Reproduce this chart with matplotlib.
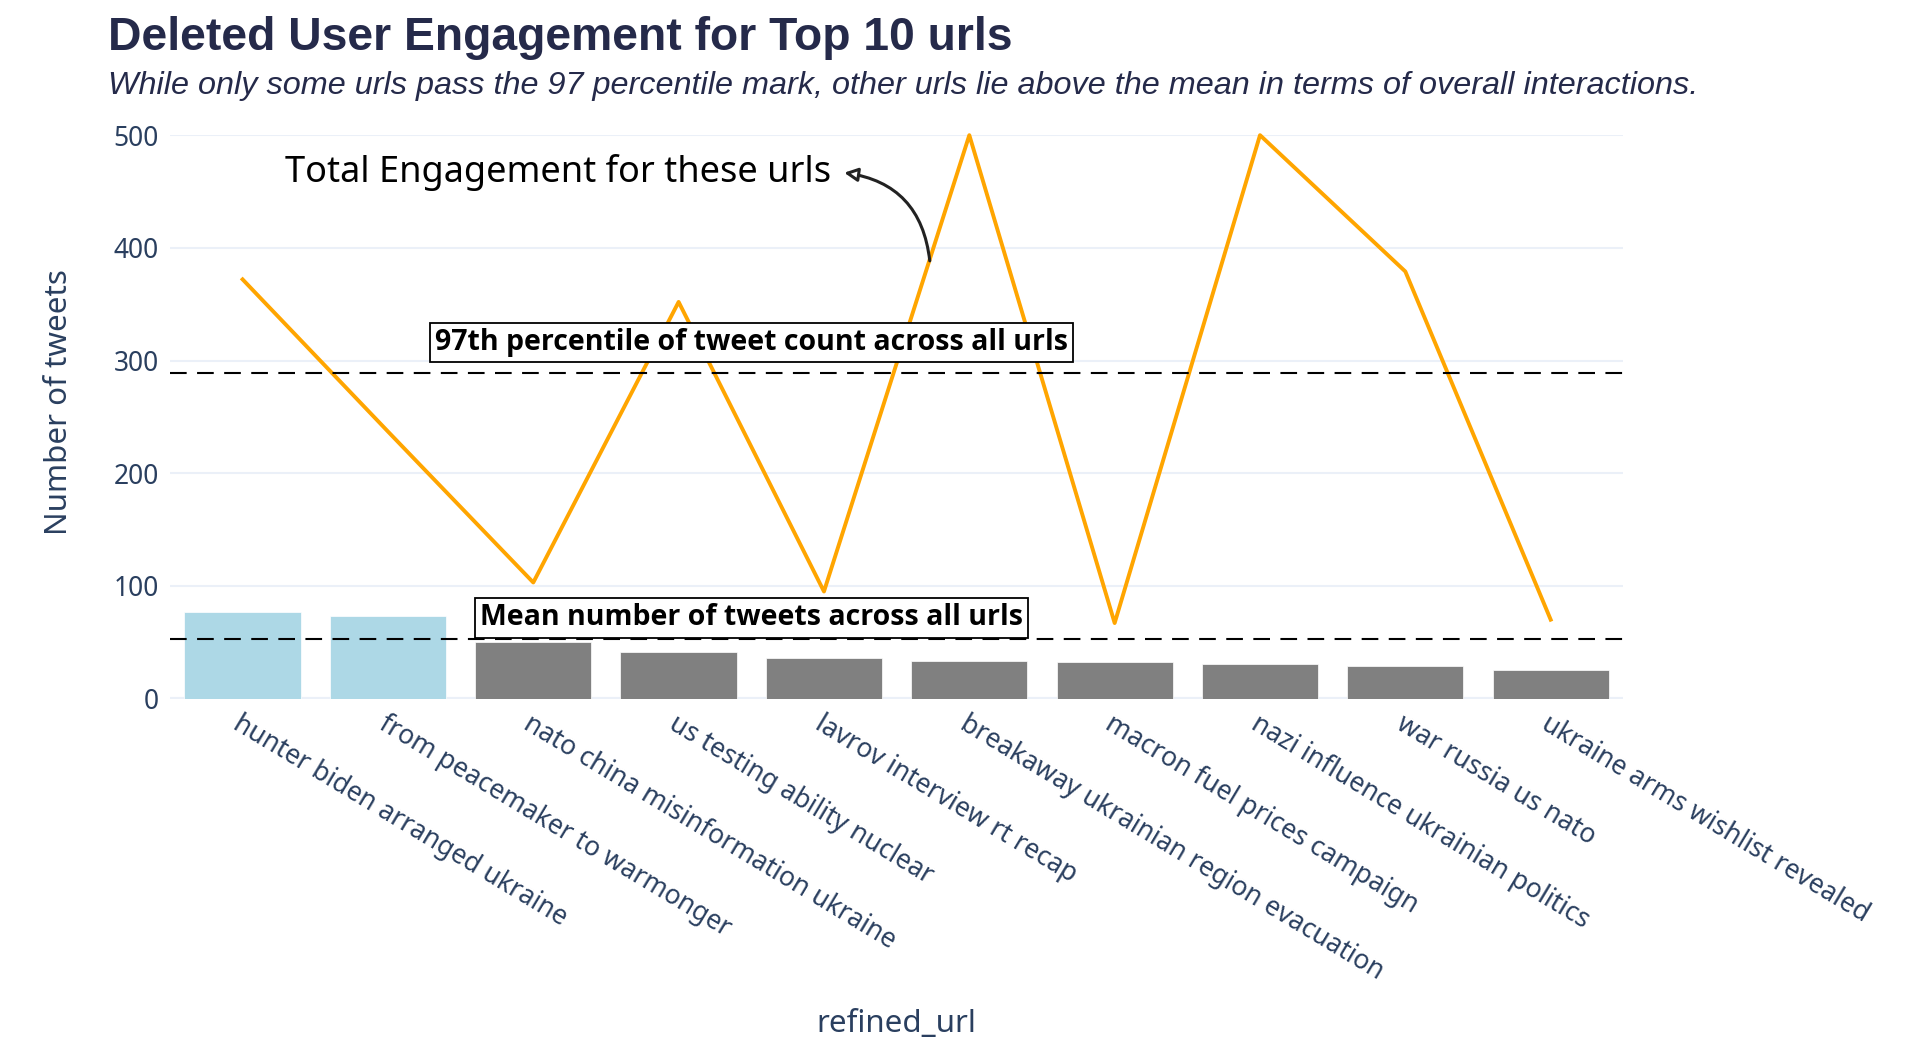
import matplotlib
matplotlib.use("Agg")
import matplotlib.pyplot as plt
import numpy as np

# data
urls = ["hunter biden arranged ukraine", "from peacemaker to warmonger",
        "nato china misinformation ukraine", "us testing ability nuclear",
        "lavrov interview rt recap", "breakaway ukrainian region evacuation",
        "macron fuel prices campaign", "nazi influence ukrainian politics",
        "war russia us nato", "ukraine arms wishlist revealed"]
tweet_counts = [77, 73, 50, 41, 36, 33, 32, 31, 29, 25]
engagement = [372, 237, 103, 352, 95, 500, 67, 500, 379, 70]
bar_colors = ["lightblue", "lightblue"] + ["grey"] * 8
pct97 = 289
mean_tweets = 52.5

TXT = "#2a3f5f"
GRID = "#ebf0f8"

fig = plt.figure(figsize=(19.2, 10.56), dpi=100)
ax = fig.add_axes([0.0885, 0.3385, 0.757, 0.5335])

x = np.arange(len(urls))
ax.bar(x, tweet_counts, width=0.8, color=bar_colors, edgecolor="white", linewidth=0.5, zorder=2)
ax.plot(x, engagement, color="orange", linewidth=2.8, zorder=3, clip_on=False)

# reference lines
ax.axhline(pct97, color="black", linewidth=1.5, linestyle=(0, (8, 5)), zorder=4)
ax.axhline(mean_tweets, color="black", linewidth=1.5, linestyle=(0, (8, 5)), zorder=4)

box = dict(boxstyle="square,pad=0.18", facecolor="white", edgecolor="black", linewidth=1.3)
ax.text(3.5, pct97 + 27, "97th percentile of tweet count across all urls", ha="center", va="center",
        fontsize=20.5, fontweight="bold", family="Open Sans", color="black", bbox=box, zorder=5)
ax.text(3.5, mean_tweets + 19, "Mean number of tweets across all urls", ha="center", va="center",
        fontsize=20.5, fontweight="bold", family="Open Sans", color="black", bbox=box, zorder=5)

ax.text(4.05, 467, "Total Engagement for these urls", ha="right", va="center",
        fontsize=26, family="Noto Sans", color="black", zorder=5)
ax.annotate("", xy=(4.12, 467), xytext=(4.73, 386),
            arrowprops=dict(arrowstyle="-|>,head_length=0.8,head_width=0.4", edgecolor="#222222",
                            facecolor="white", lw=2.2, connectionstyle="arc3,rad=0.4"), zorder=5)

ax.set_xlim(-0.5, 9.5)
ax.set_ylim(0, 500)
ax.set_yticks([0, 100, 200, 300, 400, 500])
ax.grid(axis="y", color=GRID, linewidth=1.5, zorder=0)
ax.axhline(0, color=GRID, linewidth=3, zorder=1)
for s in ax.spines.values():
    s.set_visible(False)
ax.tick_params(length=0, colors=TXT, labelsize=19, pad=8)
ax.set_xticks(x)
ax.set_xticklabels(urls, rotation=-31, ha="left", rotation_mode="anchor", family="Noto Sans")
for lab in ax.get_yticklabels():
    lab.set_family("Noto Sans")

ax.set_ylabel("Number of tweets", fontsize=22.5, color=TXT, family="Noto Sans")
ax.yaxis.set_label_coords(-0.066, 0.526)
fig.text(0.467, 1 - 1024 / 1056, "refined_url", ha="center", va="center", fontsize=22.5,
         color=TXT, family="Noto Sans")

fig.text(0.056, 0.964, "Deleted User Engagement for Top 10 urls", ha="left", va="center",
         fontsize=33.3, fontweight="bold", family="Liberation Sans", color="#252a4a")
fig.text(0.056, 0.919, "While only some urls pass the 97 percentile mark, other urls lie above the mean in terms of overall interactions.",
         ha="left", va="center", fontsize=23.3, style="italic", family="Liberation Sans", color="#252a4a")

fig.savefig("out.png", dpi=100, facecolor="white")
